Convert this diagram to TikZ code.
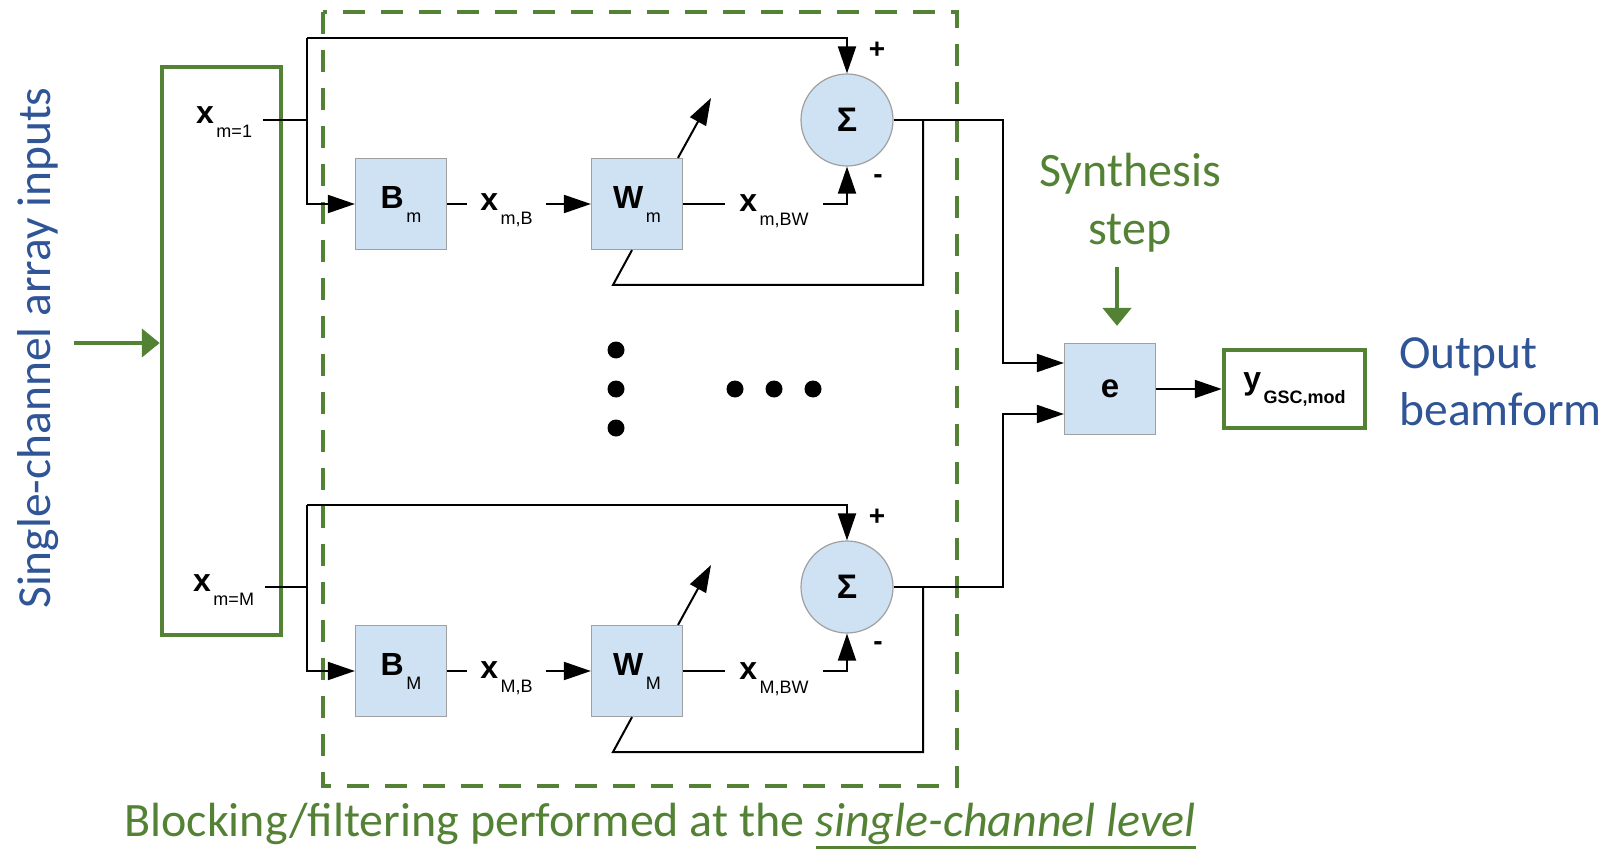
\documentclass[tikz,border=0pt]{standalone}
\usepackage{fontspec}
\setmainfont{Carlito}
\newfontfamily\arial{Liberation Sans}
\usetikzlibrary{arrows.meta}
\definecolor{gr}{RGB}{84,130,53}
\definecolor{bl}{RGB}{47,85,151}
\definecolor{bfill}{RGB}{207,226,243}
\definecolor{bdraw}{RGB}{160,160,160}
\newcommand{\lab}[2]{{\fontsize{32}{32}\selectfont\bfseries #1}\kern2.5pt\raisebox{-14pt}{\fontsize{18}{18}\selectfont #2}}
\newcommand{\myul}[1]{\leavevmode\setbox0\hbox{#1}\rlap{\rule[-12pt]{\wd0}{2.6pt}}\box0}
\begin{document}
\begin{tikzpicture}[x=1pt,y=-1pt,
  blk/.style={draw=bdraw, fill=bfill, line width=1.2pt, minimum width=91pt, minimum height=91pt, inner sep=0pt, font=\arial},
  sumc/.style={circle, draw=bdraw, fill=bfill, line width=1.2pt, minimum size=92pt, inner sep=0pt, font={\arial\bfseries\fontsize{34}{34}\selectfont}},
  wire/.style={line width=2pt, black},
  arr/.style={wire, -{Triangle[length=27pt,width=18pt]}},
  garr/.style={draw=gr, line width=4.5pt, -{Triangle[length=18pt,width=28pt]}},
  gbox/.style={draw=gr, line width=4.5pt, inner sep=0pt},
  lbl/.style={inner sep=0pt, font=\arial},
  sgn/.style={inner sep=0pt, font={\arial\bfseries\fontsize{28}{28}\selectfont}},
  bigdot/.style={circle, fill=black, minimum size=17pt, inner sep=0pt},
  gtext/.style={text=gr, font={\fontsize{48}{58}\selectfont}},
  btext/.style={text=bl, font={\fontsize{47.5}{57}\selectfont}},
]
\useasboundingbox (0,0) rectangle (1606,850);

% frames
\draw[gr, line width=4.3pt, dash pattern=on 22pt off 16pt] (323,12) rectangle (957,786);
\node[gbox, minimum width=119pt, minimum height=568pt] (inbox) at (221.5,351) {};

% texts
\node[btext, rotate=90] (sci) at (38,348) {Single-channel array inputs};
\coordinate (ga) at (74,343);
\draw[garr] (ga) -- (ga -| inbox.west);
\node[gtext, align=center] (synth) at (1130,203) {Synthesis\\step};
\node[btext, align=left, anchor=west] (outl) at (1396,382) {Output\\beamform};
\node[gtext] (cap) at (660,826) {Blocking/filtering performed at the \myul{\textit{single-channel level}}};

% blocks
\node[blk] (Bm) at (401,204) {\lab{B}{m}};
\node[blk] (Wm) at (637,204) {\lab{W}{m}};
\node[sumc] (sum1) at (847,120) {Σ};
\node[blk] (BM) at (401,671) {\lab{B}{M}};
\node[blk] (WM) at (637,671) {\lab{W}{M}};
\node[sumc] (sum2) at (847,587) {Σ};
\node[blk, font={\arial\bfseries\fontsize{33}{33}\selectfont}] (e) at (1110,389) {e};
\node[gbox, minimum width=141pt, minimum height=78pt, font=\arial] (ybox) at (1294.5,389) {\lab{y}{\bfseries GSC,mod}};

% labels
\node[lbl, anchor=base west] (xm1) at (196,124) {\lab{x}{m=1}};
\node[lbl, anchor=base west] (xmM) at (193,591) {\lab{x}{m=M}};
\node[lbl, minimum width=79pt, anchor=base] (xmB) at (506.5,211) {\lab{x}{m,B}};
\node[lbl, minimum width=98pt, anchor=base] (xmBW) at (774,212) {\lab{x}{m,BW}};
\node[lbl, minimum width=79pt, anchor=base] (xMB) at (506.5,678) {\lab{x}{M,B}};
\node[lbl, minimum width=98pt, anchor=base] (xMBW) at (774,679) {\lab{x}{M,BW}};
\node[sgn] (p1) at (877,50) {+};
\node[sgn] (n1) at (878,179) {-};
\node[sgn] (p2) at (877,517) {+};
\node[sgn] (n2) at (878,646) {-};

% top branch
\coordinate (t1) at (307,38);
\coordinate (j1) at (307,120);
\draw[wire] (xm1.east |- j1) ++(11pt,0) -- (j1);
\draw[arr] (t1) -| (sum1.north);
\draw[arr] (t1) |- (Bm.west);
\draw[wire] (Bm.east) -- (Bm.east -| xmB.west);
\draw[arr] (xmB.east |- Wm.west) -- (Wm.west);
\draw[wire] (Wm.east) -- (Wm.east -| xmBW.west);
\draw[arr] (xmBW.east |- Wm.east) -| (sum1.south);
\coordinate (r1) at (1003,120);
\draw[arr] (sum1.east) -- (r1) |- ([yshift=26pt]e.west);
\coordinate (f1) at (923,120);
\coordinate (fb1) at (613,285);
\draw[wire] (f1) |- (fb1) -- ([xshift=-5pt]Wm.south);
\coordinate (ad1) at (711,98);
\draw[arr] ([xshift=41pt]Wm.north) -- (ad1);

% bottom branch
\coordinate (t2) at (307,505);
\coordinate (j2) at (307,587);
\draw[wire] (xmM.east |- j2) ++(11pt,0) -- (j2);
\draw[arr] (t2) -| (sum2.north);
\draw[arr] (t2) |- (BM.west);
\draw[wire] (BM.east) -- (BM.east -| xMB.west);
\draw[arr] (xMB.east |- WM.west) -- (WM.west);
\draw[wire] (WM.east) -- (WM.east -| xMBW.west);
\draw[arr] (xMBW.east |- WM.east) -| (sum2.south);
\coordinate (r2) at (1003,587);
\draw[arr] (sum2.east) -- (r2) |- ([yshift=-25pt]e.west);
\coordinate (f2) at (923,587);
\coordinate (fb2) at (613,752);
\draw[wire] (f2) |- (fb2) -- ([xshift=-5pt]WM.south);
\coordinate (ad2) at (711,565);
\draw[arr] ([xshift=41pt]WM.north) -- (ad2);

% output
\draw[arr] (e.east) -- (ybox.west);
\coordinate (sa) at (1117,267);
\draw[garr, shorten >=17pt] (sa) -- (sa |- e.north);

% dots
\node[bigdot] (d1) at (616,350) {};
\node[bigdot] (d2) at (616,389) {};
\node[bigdot] (d3) at (616,428) {};
\node[bigdot] (d4) at (735,389) {};
\node[bigdot] (d5) at (774,389) {};
\node[bigdot] (d6) at (813,389) {};
\end{tikzpicture}
\end{document}
